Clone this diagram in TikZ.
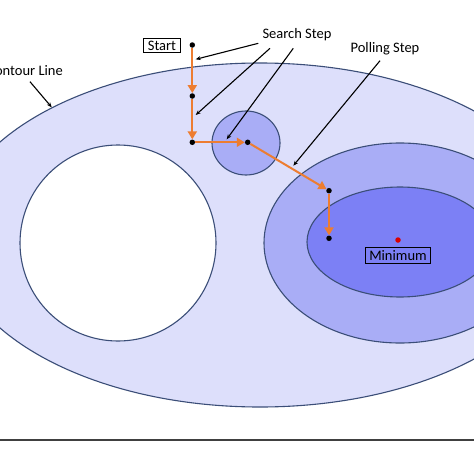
\documentclass[tikz,border=0pt]{standalone}
\usepackage{fontspec}
\setmainfont{Carlito}
\usetikzlibrary{arrows.meta}
\definecolor{edgec}{HTML}{3B4E78}
\definecolor{lightc}{HTML}{DDDFFB}
\definecolor{midc}{HTML}{A9ADF6}
\definecolor{innerc}{HTML}{7C80F5}
\definecolor{orng}{HTML}{ED7D31}
\tikzset{
  region/.style={draw=edgec, line width=1.1pt},
  dot/.style={circle, fill=black, inner sep=0pt, minimum size=5.5pt},
  stepline/.style={draw=orng, line width=2pt, -{Triangle[length=8pt,width=9pt]}},
  pointer/.style={draw=black, line width=1.1pt, -{Stealth[length=5pt,width=4pt]}},
  label/.style={font=\fontsize{14.5}{16}\selectfont, inner sep=0pt},
  boxlabel/.style={draw=black, line width=1pt, font=\fontsize{14.5}{16}\selectfont, inner xsep=4pt, inner ysep=2.5pt}
}
\begin{document}
\begin{tikzpicture}[x=1pt, y=-1pt]
\useasboundingbox (0,0) rectangle (474,474);
\clip (0,0) rectangle (474,474);
% regions
\fill[white] (0,0) rectangle (474,474);
\path[region, fill=lightc] (260,235) ellipse [x radius=309, y radius=172];
\path[region, fill=white] (118,243) circle [radius=98];
\path[region, fill=midc] (400,243) ellipse [x radius=136, y radius=100];
\path[region, fill=innerc] (400,242) ellipse [x radius=93, y radius=55];
\path[region, fill=midc] (246,143) ellipse [x radius=34, y radius=32];
% baseline rule
\draw[line width=1.4pt, black!75] (0,440) -- (474,440);
% minimum
\node[circle, fill=red!85!black, inner sep=0pt, minimum size=5.5pt] (min) at (398,240) {};
\node[boxlabel] (minlabel) at (398,255.5) {Minimum};
% path points
\node[dot] (p0) at (192.3,45) {};
\node[dot] (p1) at (192.3,96) {};
\node[dot] (p2) at (192.3,142.3) {};
\node[dot] (p3) at (247.7,142.3) {};
\node[dot] (p4) at (329,190.7) {};
\node[dot] (p5) at (329,238.3) {};
\draw[stepline] (p0) -- (p1);
\draw[stepline] (p1) -- (p2);
\draw[stepline] (p2) -- (p3);
\draw[stepline] (p3) -- (p4);
\draw[stepline] (p4) -- (p5);
% labels
\node[boxlabel] (start) at (162,45.7) {Start};
\node[label] (search) at (297,35) {Search Step};
\node[label] (polling) at (385,49) {Polling Step};
\node[label, anchor=east] (contour) at (63,71) {Contour Line};
% pointer ends
\coordinate (s1a) at (258.3,43.3);
\coordinate (s1b) at (195.7,59.3);
\coordinate (s2a) at (270,48.3);
\coordinate (s2b) at (195.7,115);
\coordinate (s3a) at (293.3,48.3);
\coordinate (s3b) at (226.7,139.3);
\coordinate (pa) at (380,60.7);
\coordinate (pb) at (293.3,165.7);
\coordinate (ca) at (30,81.7);
\coordinate (cb) at (51.7,107.3);
\draw[pointer] (s1a) -- (s1b);
\draw[pointer] (s2a) -- (s2b);
\draw[pointer] (s3a) -- (s3b);
\draw[pointer] (pa) -- (pb);
\draw[pointer] (ca) -- (cb);
\end{tikzpicture}
\end{document}
